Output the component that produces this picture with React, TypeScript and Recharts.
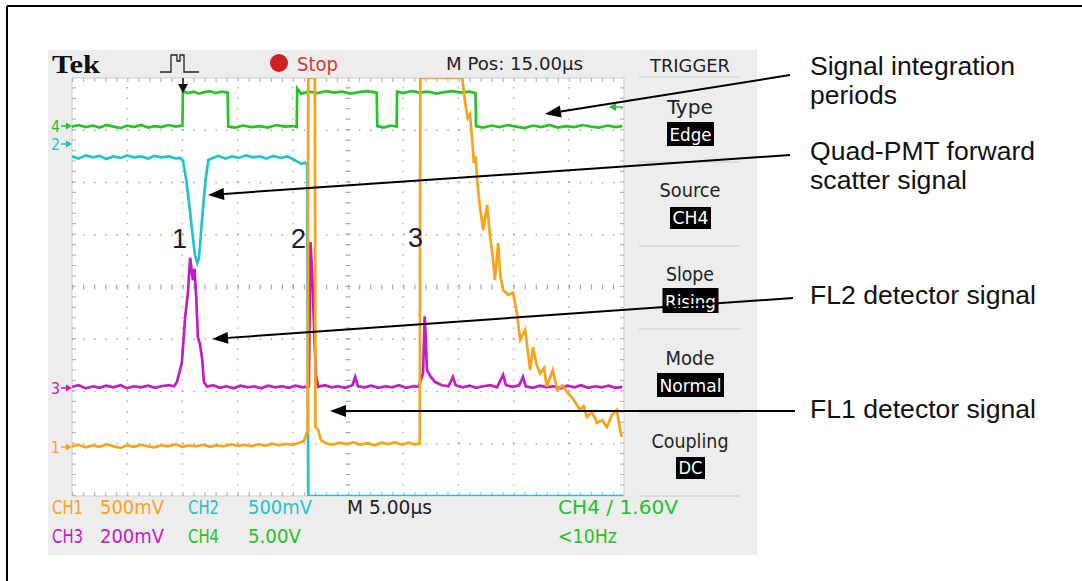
import React from "react";
import { LineChart, Line, XAxis, YAxis, ReferenceLine } from "recharts";

// screen is 10 x 8 divisions, values are in divisions from bottom-left
const ch4Trace: [number, number][] = [
  [0, 7.07], [0.12, 7.1], [0.25, 7.06], [0.38, 7.09], [0.5, 7.05], [0.62, 7.1], [0.75, 7.07],
  [0.88, 7.04], [1.0, 7.09], [1.12, 7.06], [1.25, 7.1], [1.38, 7.05], [1.5, 7.08], [1.62, 7.06],
  [1.75, 7.1], [1.88, 7.07], [2.0, 7.09], [2.01, 7.75], [2.1, 7.71], [2.2, 7.74], [2.3, 7.7],
  [2.4, 7.73], [2.5, 7.75], [2.6, 7.71], [2.7, 7.74], [2.82, 7.72], [2.83, 7.07], [2.95, 7.05],
  [3.1, 7.09], [3.25, 7.06], [3.4, 7.08], [3.55, 7.05], [3.7, 7.1], [3.85, 7.07], [4.0, 7.08],
  [4.07, 7.06], [4.08, 7.8], [4.15, 7.7], [4.3, 7.74], [4.45, 7.71], [4.6, 7.75], [4.75, 7.72],
  [4.9, 7.74], [5.05, 7.7], [5.2, 7.73], [5.35, 7.75], [5.52, 7.72], [5.53, 7.08], [5.65, 7.05],
  [5.78, 7.09], [5.88, 7.07], [5.89, 7.74], [6.0, 7.71], [6.15, 7.75], [6.3, 7.72], [6.45, 7.74],
  [6.6, 7.7], [6.75, 7.73], [6.9, 7.75], [7.05, 7.72], [7.2, 7.74], [7.31, 7.71], [7.32, 7.08],
  [7.45, 7.05], [7.6, 7.09], [7.75, 7.06], [7.9, 7.1], [8.05, 7.07], [8.2, 7.04], [8.35, 7.09],
  [8.5, 7.06], [8.65, 7.1], [8.8, 7.05], [8.95, 7.08], [9.1, 7.06], [9.25, 7.1], [9.4, 7.07],
  [9.55, 7.05], [9.7, 7.09], [9.85, 7.06], [9.97, 7.08],
];

const ch2Trace: [number, number][] = [
  [0, 6.5], [0.12, 6.46], [0.25, 6.52], [0.38, 6.48], [0.5, 6.51], [0.62, 6.45], [0.75, 6.5],
  [0.88, 6.47], [1.0, 6.52], [1.12, 6.48], [1.25, 6.5], [1.38, 6.46], [1.5, 6.51], [1.62, 6.48],
  [1.75, 6.5], [1.88, 6.46], [1.96, 6.47], [2.01, 6.42], [2.07, 6.05], [2.13, 5.53], [2.19, 4.95],
  [2.23, 4.6], [2.27, 4.46], [2.3, 4.55], [2.33, 4.95], [2.36, 5.34], [2.42, 6.05], [2.47, 6.43],
  [2.55, 6.47], [2.65, 6.51], [2.78, 6.46], [2.9, 6.5], [3.02, 6.47], [3.15, 6.52], [3.28, 6.48],
  [3.4, 6.5], [3.52, 6.46], [3.65, 6.51], [3.78, 6.47], [3.9, 6.5], [4.0, 6.45], [4.08, 6.4],
  [4.15, 6.36], [4.22, 6.38], [4.26, 6.35], [4.28, 0], [5, 0], [6, 0], [7, 0], [8, 0], [9, 0],
  [9.97, 0],
];

const ch3Trace: [number, number][] = [
  [0, 2.09], [0.12, 2.12], [0.25, 2.06], [0.38, 2.1], [0.5, 2.07], [0.62, 2.11], [0.75, 2.08],
  [0.88, 2.12], [1.0, 2.06], [1.12, 2.1], [1.25, 2.08], [1.38, 2.11], [1.5, 2.07], [1.62, 2.1],
  [1.75, 2.12], [1.85, 2.1], [1.9, 2.18], [1.99, 2.55], [2.05, 3.43], [2.1, 3.89], [2.14, 4.56],
  [2.19, 4.13], [2.22, 4.35], [2.25, 3.81], [2.28, 3.04], [2.32, 2.9], [2.36, 2.6], [2.39, 2.18],
  [2.45, 2.09], [2.55, 2.12], [2.68, 2.07], [2.8, 2.1], [2.93, 2.06], [3.05, 2.11], [3.18, 2.08],
  [3.3, 2.1], [3.43, 2.06], [3.55, 2.11], [3.68, 2.08], [3.8, 2.1], [3.93, 2.07], [4.05, 2.11],
  [4.18, 2.08], [4.29, 2.1], [4.32, 4.86], [4.35, 4.3], [4.37, 3.7], [4.39, 3.08], [4.42, 2.3],
  [4.46, 2.09], [4.58, 2.12], [4.7, 2.08], [4.82, 2.1], [4.95, 2.07], [5.08, 2.12], [5.13, 2.28],
  [5.18, 2.1], [5.3, 2.08], [5.42, 2.11], [5.55, 2.07], [5.68, 2.1], [5.8, 2.08], [5.92, 2.12],
  [6.05, 2.07], [6.18, 2.1], [6.28, 2.09], [6.36, 2.35], [6.39, 3.44], [6.41, 2.99], [6.43, 2.41],
  [6.5, 2.28], [6.58, 2.18], [6.7, 2.12], [6.82, 2.1], [6.9, 2.28], [6.95, 2.12], [7.08, 2.08],
  [7.2, 2.11], [7.32, 2.07], [7.45, 2.1], [7.58, 2.12], [7.7, 2.08], [7.81, 2.32], [7.86, 2.12],
  [7.98, 2.09], [8.1, 2.12], [8.17, 2.28], [8.22, 2.1], [8.35, 2.07], [8.48, 2.11], [8.6, 2.08],
  [8.72, 2.1], [8.85, 2.06], [8.98, 2.11], [9.1, 2.08], [9.22, 2.12], [9.35, 2.07], [9.48, 2.1],
  [9.6, 2.08], [9.72, 2.11], [9.85, 2.07], [9.97, 2.09],
];

const ch1Trace: [number, number][] = [
  [0, 0.95], [0.12, 0.98], [0.25, 0.93], [0.38, 0.97], [0.5, 0.94], [0.62, 0.99], [0.75, 0.95],
  [0.88, 0.92], [1.0, 0.97], [1.12, 0.94], [1.25, 0.98], [1.38, 0.95], [1.5, 0.93], [1.62, 0.97],
  [1.75, 0.95], [1.88, 0.99], [2.0, 0.94], [2.12, 0.97], [2.25, 0.95], [2.38, 0.98], [2.5, 0.94],
  [2.62, 0.97], [2.75, 0.95], [2.88, 0.99], [3.0, 0.96], [3.12, 0.98], [3.25, 0.95], [3.38, 0.99],
  [3.5, 0.96], [3.62, 1.0], [3.75, 0.97], [3.88, 1.0], [4.0, 0.98], [4.12, 1.02], [4.2, 1.05],
  [4.25, 1.2], [4.27, 1.22], [4.28, 8], [4.4, 8], [4.41, 1.32], [4.46, 1.26], [4.51, 1.07],
  [4.6, 1.01], [4.72, 0.98], [4.85, 1.02], [4.98, 0.99], [5.1, 1.03], [5.22, 0.98], [5.35, 1.01],
  [5.48, 0.97], [5.6, 1.02], [5.72, 0.99], [5.85, 1.03], [5.98, 0.98], [6.1, 1.02], [6.2, 0.99],
  [6.3, 1.0], [6.31, 8], [7.07, 8], [7.12, 7.55], [7.17, 7.23], [7.21, 7.3], [7.25, 6.81],
  [7.28, 6.37], [7.31, 6.5], [7.34, 6.05], [7.39, 5.53], [7.45, 5.09], [7.52, 5.57], [7.57, 5.0],
  [7.62, 4.6], [7.66, 4.13], [7.72, 4.84], [7.76, 4.2], [7.81, 3.94], [7.9, 3.85], [7.99, 3.89],
  [8.06, 3.5], [8.12, 2.99], [8.21, 3.18], [8.3, 2.41], [8.35, 2.85], [8.42, 2.5], [8.48, 2.35],
  [8.55, 2.45], [8.6, 2.09], [8.71, 2.41], [8.79, 2.03], [8.88, 2.12], [8.97, 1.99], [9.09, 1.84],
  [9.2, 1.65], [9.27, 1.72], [9.33, 1.51], [9.42, 1.61], [9.51, 1.4], [9.6, 1.45], [9.69, 1.32],
  [9.78, 1.55], [9.87, 1.65], [9.93, 1.26], [9.96, 1.13],
];

const gridX = [1, 2, 3, 4, 6, 7, 8, 9];
const gridY = [1, 2, 3, 5, 6, 7];

const triggerItems = [
  { label: "Type", value: "Edge" },
  { label: "Source", value: "CH4" },
  { label: "Slope", value: "Rising" },
  { label: "Mode", value: "Normal" },
  { label: "Coupling", value: "DC" },
];

const COLORS = {
  ch1: "#f9a31b",
  ch2: "#22c3c9",
  ch3: "#c21cc4",
  ch4: "#26c226",
};

const toRows = (pts: [number, number][]) => pts.map(([t, v]) => ({ t, v }));

const narrow = "'Liberation Sans Narrow', 'DejaVu Sans Condensed', 'Liberation Sans', Arial, sans-serif";
const arial = "'Liberation Sans', Arial, Helvetica, sans-serif";

const Arrow = ({ x1, y1, x2, y2 }: { x1: number; y1: number; x2: number; y2: number }) => {
  const dx = x2 - x1;
  const dy = y2 - y1;
  const len = Math.hypot(dx, dy);
  const ux = dx / len;
  const uy = dy / len;
  const hl = 16;
  const hw = 6;
  const bx = x2 - ux * hl;
  const by = y2 - uy * hl;
  return (
    <g>
      <line x1={x1} y1={y1} x2={bx} y2={by} stroke="#000" strokeWidth={2} />
      <polygon
        points={`${x2},${y2} ${bx - uy * hw},${by + ux * hw} ${bx + uy * hw},${by - ux * hw}`}
        fill="#000"
      />
    </g>
  );
};

const ChannelMark = ({ n, y, color }: { n: string; y: number; color: string }) => (
  <g>
    <text x={51} y={y + 5.5} fontFamily={narrow} fontSize={16} fill={color} textLength={9} lengthAdjust="spacingAndGlyphs">
      {n}
    </text>
    <line x1={61} y1={y} x2={67} y2={y} stroke={color} strokeWidth={1.5} />
    <polygon points={`${72},${y} ${66},${y - 3.5} ${66},${y + 3.5}`} fill={color} />
  </g>
);

const sepYs = [77, 162, 246, 329, 413, 496];
const labelYs = [114, 197, 281, 365, 448];
const boxes = [
  { y: 122, h: 24, w: 47 },
  { y: 207, h: 22, w: 41 },
  { y: 288, h: 25, w: 56 },
  { y: 373, h: 24, w: 67 },
  { y: 457, h: 22, w: 29 },
];
const labelW = [46, 61, 48, 49, 77];

const notes = [
  { text: "Signal integration", y: 75, w: 205 },
  { text: "periods", y: 104, w: 87 },
  { text: "Quad-PMT forward", y: 160, w: 225 },
  { text: "scatter signal", y: 189, w: 157 },
  { text: "FL2 detector signal", y: 304, w: 226 },
  { text: "FL1 detector signal", y: 418, w: 226 },
];

export default function App() {
  return (
    <div style={{ position: "absolute", left: 0, top: 0, width: 1082, height: 581, background: "#fff" }}>
      <svg width={1082} height={581} style={{ position: "absolute", left: 0, top: 0 }}>
        <line x1={7} y1={6} x2={1082} y2={6} stroke="#000" strokeWidth={2} />
        <line x1={7} y1={6} x2={7} y2={581} stroke="#000" strokeWidth={2} />
        <rect x={48} y={50} width={709} height={505} fill="#ededed" />
        <rect x={72} y={78} width={552} height={418} fill="#fff" stroke="#cfcfcf" strokeWidth={1} />
      </svg>

      <div style={{ position: "absolute", left: 0, top: 0 }}>
        <LineChart width={1082} height={581} margin={{ top: 78, right: 458, bottom: 85, left: 72 }}>
          <XAxis type="number" dataKey="t" domain={[0, 10]} hide allowDataOverflow />
          <YAxis type="number" domain={[0, 8]} hide allowDataOverflow />
          {gridX.map((d) => (
            <ReferenceLine key={`gx${d}`} x={d} stroke="#a4a4a4" strokeWidth={1.3} strokeDasharray="1.4 9.05" />
          ))}
          {gridY.map((d) => (
            <ReferenceLine key={`gy${d}`} y={d} stroke="#a4a4a4" strokeWidth={1.3} strokeDasharray="1.4 9.64" />
          ))}
          <ReferenceLine x={5} stroke="#a8a8a8" strokeWidth={5} strokeDasharray="1.2 9.25" />
          <ReferenceLine y={4} stroke="#a8a8a8" strokeWidth={5} strokeDasharray="1.2 9.84" />
          <ReferenceLine y={0.04} stroke="#b8b8b8" strokeWidth={4} strokeDasharray="1.2 9.84" />
          <ReferenceLine y={7.96} stroke="#b8b8b8" strokeWidth={4} strokeDasharray="1.2 9.84" />
          <ReferenceLine x={0.036} stroke="#b8b8b8" strokeWidth={4} strokeDasharray="1.2 9.25" />
          <ReferenceLine x={9.964} stroke="#b8b8b8" strokeWidth={4} strokeDasharray="1.2 9.25" />
          <Line data={toRows(ch3Trace)} dataKey="v" type="linear" stroke={COLORS.ch3} strokeWidth={2.7} dot={false} isAnimationActive={false} />
          <Line data={toRows(ch2Trace)} dataKey="v" type="linear" stroke={COLORS.ch2} strokeWidth={2.7} dot={false} isAnimationActive={false} />
          <Line data={toRows(ch4Trace)} dataKey="v" type="linear" stroke={COLORS.ch4} strokeWidth={2.7} dot={false} isAnimationActive={false} />
          <Line data={toRows(ch1Trace)} dataKey="v" type="linear" stroke={COLORS.ch1} strokeWidth={2.7} dot={false} isAnimationActive={false} />
        </LineChart>
      </div>

      <svg width={1082} height={581} style={{ position: "absolute", left: 0, top: 0, pointerEvents: "none" }}>
        {/* top status bar */}
        <text x={52} y={73} fontFamily="'Liberation Serif', 'DejaVu Serif', serif" fontWeight="bold" fontSize={26} fill="#111" textLength={48} lengthAdjust="spacingAndGlyphs">
          Tek
        </text>
        <path d="M160 72 H171 V55 H177 V61 H180 V55 H184 V72 H199" fill="none" stroke="#222" strokeWidth={1.3} />
        <circle cx={279} cy={63} r={9} fill="#d11f1f" />
        <text x={297} y={71} fontFamily={narrow} fontSize={19} fill="#d33a3a" textLength={41} lengthAdjust="spacingAndGlyphs">
          Stop
        </text>
        <text x={446} y={70} fontFamily={narrow} fontSize={18} fill="#222" textLength={137} lengthAdjust="spacingAndGlyphs">
          M Pos: 15.00µs
        </text>

        {/* trigger position marker */}
        <line x1={183} y1={78} x2={183} y2={86} stroke="#111" strokeWidth={1.5} />
        <polygon points="178,84 188,84 183,93" fill="#111" />

        {/* channel ground markers */}
        <ChannelMark n="4" y={126} color={COLORS.ch4} />
        <ChannelMark n="2" y={144} color={COLORS.ch2} />
        <ChannelMark n="3" y={388} color={COLORS.ch3} />
        <ChannelMark n="1" y={447} color={COLORS.ch1} />

        {/* trigger level marker */}
        <line x1={614} y1={107} x2={623} y2={107} stroke={COLORS.ch4} strokeWidth={1.5} />
        <polygon points="609,107 616,103 616,111" fill={COLORS.ch4} />

        {/* particle numbers */}
        <text x={172} y={248} fontFamily={arial} fontSize={27} fill="#1c1c3a">1</text>
        <text x={291} y={248} fontFamily={arial} fontSize={27} fill="#1c1c3a">2</text>
        <text x={408} y={247} fontFamily={arial} fontSize={27} fill="#1c1c3a">3</text>

        {/* trigger menu */}
        <text x={650} y={72} fontFamily={narrow} fontSize={17} fill="#222" textLength={80} lengthAdjust="spacingAndGlyphs">
          TRIGGER
        </text>
        {sepYs.map((y) => (
          <line key={y} x1={639} y1={y} x2={740} y2={y} stroke="#c9c9c9" strokeWidth={1.2} />
        ))}
        {triggerItems.map((it, i) => (
          <g key={it.label}>
            <text x={690 - labelW[i] / 2} y={labelYs[i]} fontFamily={narrow} fontSize={19} fill="#222" textLength={labelW[i]} lengthAdjust="spacingAndGlyphs">
              {it.label}
            </text>
            <rect x={690.5 - boxes[i].w / 2} y={boxes[i].y} width={boxes[i].w} height={boxes[i].h} fill="#000" />
            <text x={690.5 - (boxes[i].w - 5) / 2} y={boxes[i].y + boxes[i].h - 5} fontFamily={narrow} fontSize={18} fill="#fff" textLength={boxes[i].w - 5} lengthAdjust="spacingAndGlyphs">
              {it.value}
            </text>
          </g>
        ))}

        {/* channel settings */}
        <g fontFamily={narrow} fontSize={19}>
          <text x={52} y={514} fill={COLORS.ch1} textLength={31} lengthAdjust="spacingAndGlyphs">CH1</text>
          <text x={100} y={514} fill={COLORS.ch1} textLength={64} lengthAdjust="spacingAndGlyphs">500mV</text>
          <text x={188} y={514} fill={COLORS.ch2} textLength={31} lengthAdjust="spacingAndGlyphs">CH2</text>
          <text x={248} y={514} fill={COLORS.ch2} textLength={64} lengthAdjust="spacingAndGlyphs">500mV</text>
          <text x={347} y={514} fill="#222" textLength={85} lengthAdjust="spacingAndGlyphs">M 5.00µs</text>
          <text x={558} y={514} fill={COLORS.ch4} textLength={120} lengthAdjust="spacingAndGlyphs">CH4 / 1.60V</text>
          <text x={52} y={543} fill={COLORS.ch3} textLength={31} lengthAdjust="spacingAndGlyphs">CH3</text>
          <text x={100} y={543} fill={COLORS.ch3} textLength={64} lengthAdjust="spacingAndGlyphs">200mV</text>
          <text x={188} y={543} fill={COLORS.ch4} textLength={31} lengthAdjust="spacingAndGlyphs">CH4</text>
          <text x={248} y={543} fill={COLORS.ch4} textLength={53} lengthAdjust="spacingAndGlyphs">5.00V</text>
          <text x={558} y={543} fill={COLORS.ch4} textLength={59} lengthAdjust="spacingAndGlyphs">&lt;10Hz</text>
        </g>

        {/* annotations */}
        <Arrow x1={790} y1={75} x2={545} y2={114} />
        <Arrow x1={790} y1={155} x2={208} y2={195} />
        <Arrow x1={793} y1={298} x2={212} y2={339} />
        <Arrow x1={795} y1={411} x2={330} y2={411} />
        <g fontFamily={arial} fontSize={25} fill="#111">
          {notes.map((n) => (
            <text key={n.text} x={810} y={n.y} textLength={n.w} lengthAdjust="spacingAndGlyphs">
              {n.text}
            </text>
          ))}
        </g>
      </svg>
    </div>
  );
}
